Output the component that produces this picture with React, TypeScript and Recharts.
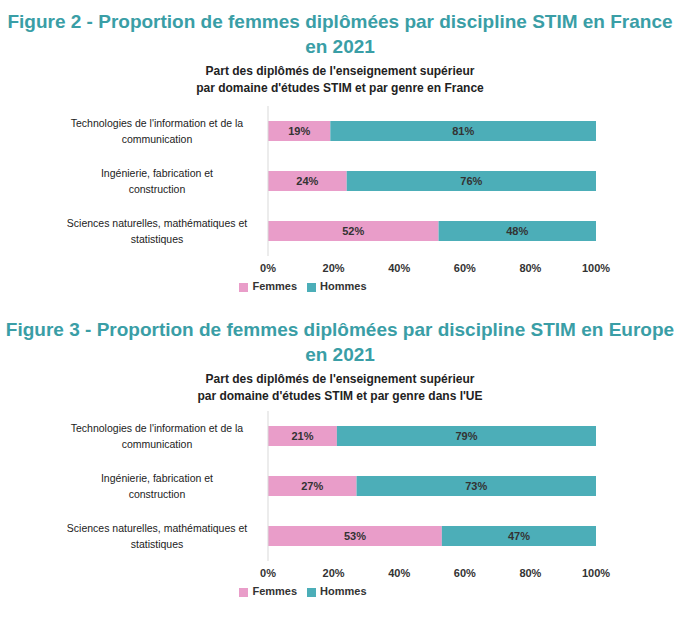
import { BarChart, Bar, XAxis, YAxis, Legend, LabelList } from "recharts";

const categories = [
  "Technologies de l'information et de la communication",
  "Ingénierie, fabrication et construction",
  "Sciences naturelles, mathématiques et statistiques",
];
const femmesFrance = [19, 24, 52];
const hommesFrance = [81, 76, 48];
const femmesUE = [21, 27, 53];
const hommesUE = [79, 73, 47];
const xTicks = [0, 20, 40, 60, 80, 100];

const PINK = "#e99dc9";
const TEAL = "#4caeb8";
const FONT = "'Liberation Sans', Arial, sans-serif";

function wrap(s: string, max = 38) {
  const words = s.split(" ");
  const lines: string[] = [];
  let cur = "";
  for (const w of words) {
    if ((cur + " " + w).trim().length > max) {
      lines.push(cur);
      cur = w;
    } else cur = (cur + " " + w).trim();
  }
  if (cur) lines.push(cur);
  return lines;
}

function CatTick({ x, y, payload }: any) {
  const lines = wrap(payload.value);
  const start = y - ((lines.length - 1) * 16) / 2 + 4;
  return (
    <text x={x - 103} y={start} textAnchor="middle" fontSize={10.5} fill="#222" fontFamily={FONT}>
      {lines.map((l, i) => (
        <tspan key={i} x={x - 103} y={start + i * 16}>{l}</tspan>
      ))}
    </text>
  );
}

function Chart({ fem, hom }: { fem: number[]; hom: number[] }) {
  const data = categories.map((c, i) => ({ cat: c, Femmes: fem[i], Hommes: hom[i] }));
  const lbl = { fontSize: 11, fontWeight: 700, fill: "#333", fontFamily: FONT };
  return (
    <BarChart width={680} height={200} data={data} layout="vertical"
      margin={{ top: 6, right: 84, bottom: 0, left: 0 }} barSize={20}>
      <XAxis type="number" domain={[0, 100]} ticks={xTicks} axisLine={false} tickLine={false}
        tickFormatter={(v) => `${v}%`} height={24}
        tick={{ fontSize: 11, fontWeight: 700, fill: "#333", fontFamily: FONT }} />
      <YAxis type="category" dataKey="cat" width={268} axisLine={{ stroke: "#d9d9d9" }}
        tickLine={false} tick={<CatTick />} />
      <Legend verticalAlign="bottom" height={20} iconType="square" iconSize={9}
        wrapperStyle={{ fontSize: 11, fontWeight: 700, fontFamily: FONT, paddingLeft: 10 }}
        formatter={(v) => <span style={{ color: "#333" }}>{v}</span>} />
      <Bar dataKey="Femmes" stackId="a" fill={PINK} isAnimationActive={false}>
        <LabelList dataKey="Femmes" position="center" formatter={(v: any) => `${v}%`} style={lbl} />
      </Bar>
      <Bar dataKey="Hommes" stackId="a" fill={TEAL} isAnimationActive={false}>
        <LabelList dataKey="Hommes" position="center" formatter={(v: any) => `${v}%`} style={lbl} />
      </Bar>
    </BarChart>
  );
}

const titleStyle: React.CSSProperties = {
  position: "absolute", left: 0, width: 680, textAlign: "center", color: "#3a9ea6",
  fontFamily: FONT, fontWeight: 700, fontSize: 19, lineHeight: "25px", margin: 0,
};
const subStyle: React.CSSProperties = {
  position: "absolute", left: 0, width: 680, textAlign: "center", color: "#222",
  fontFamily: FONT, fontWeight: 700, fontSize: 12, lineHeight: "17px",
};

export default function App() {
  return (
    <div style={{ position: "fixed", left: 0, top: 0, width: 680, height: 635, background: "#fff" }}>
      <div style={{ ...titleStyle, top: 9 }}>Figure 2 - Proportion de femmes diplômées par discipline STIM en France<br />en 2021</div>
      <div style={{ ...subStyle, top: 63 }}>Part des diplômés de l'enseignement supérieur<br />par domaine d'études STIM et par genre en France</div>
      <div style={{ position: "absolute", left: 0, top: 100 }}>
        <Chart fem={femmesFrance} hom={hommesFrance} />
      </div>
      <div style={{ ...titleStyle, top: 317 }}>Figure 3 - Proportion de femmes diplômées par discipline STIM en Europe<br />en 2021</div>
      <div style={{ ...subStyle, top: 371 }}>Part des diplômés de l'enseignement supérieur<br />par domaine d'études STIM et par genre dans l'UE</div>
      <div style={{ position: "absolute", left: 0, top: 405 }}>
        <Chart fem={femmesUE} hom={hommesUE} />
      </div>
    </div>
  );
}
